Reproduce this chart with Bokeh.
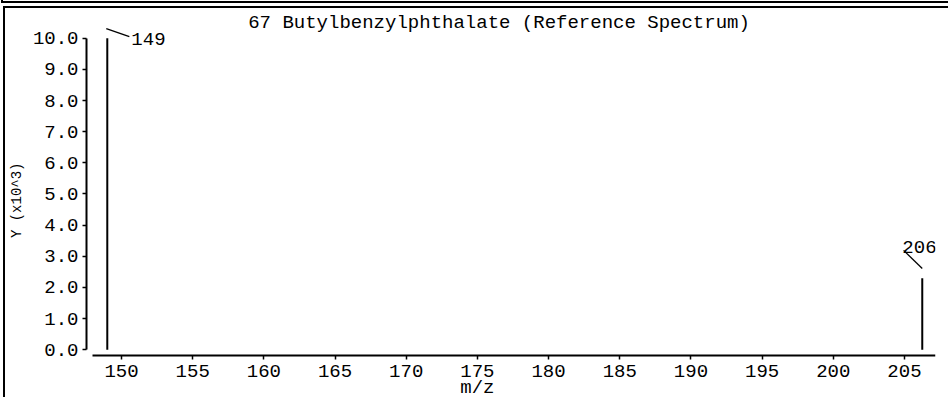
from bokeh.plotting import figure
from bokeh.models import (Range1d, FixedTicker, PrintfTickFormatter, Label,
                          Title, ColumnDataSource)
from bokeh.core.properties import value
from bokeh.embed import file_html
from bokeh.resources import INLINE

# ---- data ----
mz = [149.0, 206.25]
intensity = [10.0, 2.3]          # Y (x10^3)
peak_labels = ["149", "206"]
x_ticks = [150, 155, 160, 165, 170, 175, 180, 185, 190, 195, 200, 205]
y_ticks = [0, 1, 2, 3, 4, 5, 6, 7, 8, 9, 10]
title_text = "67 Butylbenzylphthalate (Reference Spectrum)"
x_label = "m/z"
x_label_tick = 175               # the x-axis title sits under this tick
y_label = "Y (x10^3)"

# ---- label placement (style, relative to the peak top, data units) ----
lab_dx = [1.69, -1.40]
lab_dy = [-0.01, 0.99]
lead_x0 = [-0.07, -1.31]
lead_y0 = [0.31, 0.89]
lead_x1 = [1.55, 0.0]
lead_y1 = [0.05, 0.31]

FONT = "Liberation Mono"
X_AXIS_Y = -0.183                # x axis sits a little below zero (offset axes)

p = figure(width=948, height=397, output_backend="svg", toolbar_location=None,
           x_range=Range1d(147.54, 207.18), y_range=Range1d(-1.531, 11.21),
           min_border_left=86, min_border_right=13, min_border_top=0,
           min_border_bottom=0)
p.background_fill_color = None
p.border_fill_color = None
p.outline_line_color = None
p.xgrid.visible = False
p.ygrid.visible = False
# cropped panel frame of the original page (left edge and double top rule)
p.styles = {
    "background-color": "white",
    "background-image": ("linear-gradient(#000,#000), linear-gradient(#000,#000), "
                         "linear-gradient(#000,#000), linear-gradient(#000,#000)"),
    "background-size": "2px 391px, 946px 2px, 945px 2px, 2px 3px",
    "background-position": "3px 6px, 2px 1px, 3px 6px, 1px 0px",
    "background-repeat": "no-repeat",
}

# peaks
src = ColumnDataSource(dict(
    x=mz, y0=[0] * len(mz), y1=intensity,
    lx=[m + d for m, d in zip(mz, lab_dx)],
    ly=[h + d for h, d in zip(intensity, lab_dy)],
    ax0=[m + d for m, d in zip(mz, lead_x0)],
    ay0=[h + d for h, d in zip(intensity, lead_y0)],
    ax1=[m + d for m, d in zip(mz, lead_x1)],
    ay1=[h + d for h, d in zip(intensity, lead_y1)],
    t=peak_labels))
p.segment(x0="x", y0="y0", x1="x", y1="y1", source=src,
          line_color="black", line_width=2)
p.segment(x0="ax0", y0="ay0", x1="ax1", y1="ay1", source=src,
          line_color="black", line_width=1.3)
p.text(x="lx", y="ly", text="t", source=src, text_font=value(FONT),
       text_font_size="19px", text_baseline="middle", text_align="left",
       text_color="black")

# axes
for ax in (p.xaxis[0], p.yaxis[0]):
    ax.axis_line_color = "black"
    ax.axis_line_width = 2
    ax.major_tick_line_color = "black"
    ax.major_tick_line_width = 1.5
    ax.major_tick_out = 4
    ax.major_tick_in = 0
    ax.minor_tick_line_color = None
    ax.major_label_text_font = FONT
    ax.major_label_text_font_size = "19px"
    ax.major_label_text_color = "black"

p.xaxis[0].ticker = FixedTicker(ticks=x_ticks)
p.xaxis[0].bounds = (147.96, 207.18)
p.xaxis[0].fixed_location = X_AXIS_Y
p.xaxis[0].major_label_standoff = 2
p.xaxis[0].major_label_text_line_height = 0.7
# x-axis title drawn as a second line under its tick, as in the reference
p.xaxis[0].major_label_overrides = {x_label_tick: f"{x_label_tick}\n{x_label}"}

p.yaxis[0].ticker = FixedTicker(ticks=y_ticks)
p.yaxis[0].formatter = PrintfTickFormatter(format="%.1f")
p.yaxis[0].bounds = (0, 10)
p.yaxis[0].major_label_standoff = 4

# y axis title, placed in the left panel
p.add_layout(Title(text=y_label, text_font=FONT, text_font_size="14px",
                   text_font_style="normal", text_color="black",
                   align="right", offset=162, vertical_align="top",
                   standoff=6), "left")

# chart title
p.add_layout(Label(x=176.52, y=10.50, text=title_text, text_font=FONT,
                   text_font_size="19px", text_align="center",
                   text_baseline="middle", text_color="black"))

open("out.html", "w").write(file_html(p, INLINE))
